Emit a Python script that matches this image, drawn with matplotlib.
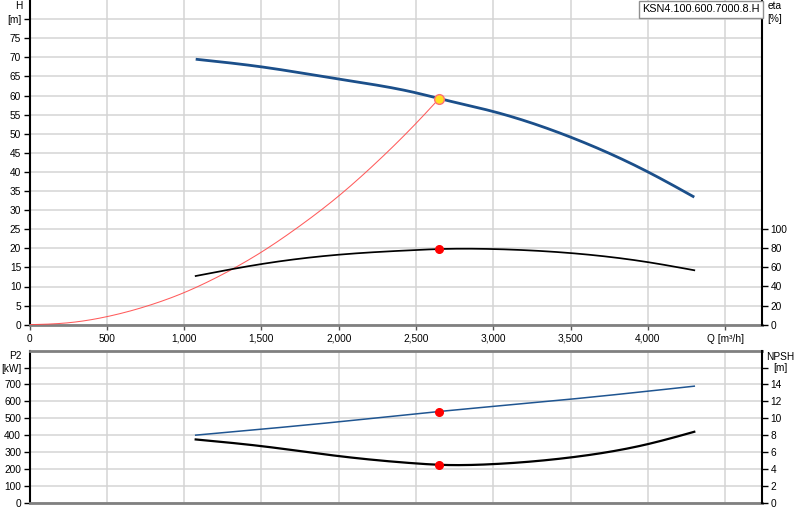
import matplotlib
matplotlib.use("Agg")
import matplotlib.pyplot as plt
import numpy as np

plt.rcParams['font.family'] = ['Liberation Sans', 'DejaVu Sans']
FS = 7.3

# ---- data ----
q_h = [1075, 1500, 2000, 2500, 2650, 3000, 3500, 4000, 4300]
h_vals = [69.5, 67.5, 64.3, 60.7, 59.2, 55.8, 49.1, 40.0, 33.4]

q_sys = [0, 250, 500, 800, 1000, 1250, 1500, 1750, 2000, 2250, 2500, 2650]
h_sys = [0, 0.5, 2.1, 5.4, 8.4, 13.2, 19.0, 25.9, 33.7, 42.7, 52.7, 59.2]

q_eta = [1075, 1500, 2000, 2500, 2650, 3000, 3500, 4000, 4300]
eta_vals = [51.0, 63.5, 73.3, 78.2, 79.2, 79.2, 75.0, 65.5, 57.0]

q_p2 = [1075, 2000, 2650, 3500, 4300]
p2_vals = [400, 479, 540, 613, 690]

q_npsh = [1075, 1500, 2000, 2500, 2650, 3000, 3500, 4000, 4300]
npsh_vals = [7.49, 6.70, 5.52, 4.65, 4.49, 4.57, 5.36, 6.94, 8.40]

q_op = 2650
h_op = 59.2
eta_op = 79.2
p2_op = 540
npsh_op = 4.49

x_ticks = [0, 500, 1000, 1500, 2000, 2500, 3000, 3500, 4000, 4500]
x_labels = ['0', '500', '1,000', '1,500', '2,000', '2,500', '3,000', '3,500', '4,000', 'Q [m³/h]']
title = 'KSN4.100.600.7000.8.H'


def smooth(x, y, n=200):
    """Natural cubic spline through the given points (for drawing only)."""
    x = np.asarray(x, float)
    y = np.asarray(y, float)
    k = len(x)
    h = np.diff(x)
    A = np.zeros((k, k))
    b = np.zeros(k)
    A[0, 0] = A[-1, -1] = 1
    for i in range(1, k - 1):
        A[i, i - 1] = h[i - 1]
        A[i, i] = 2 * (h[i - 1] + h[i])
        A[i, i + 1] = h[i]
        b[i] = 3 * ((y[i + 1] - y[i]) / h[i] - (y[i] - y[i - 1]) / h[i - 1])
    c = np.linalg.solve(A, b)
    xs = np.linspace(x[0], x[-1], n)
    idx = np.clip(np.searchsorted(x, xs) - 1, 0, k - 2)
    dx = xs - x[idx]
    bb = (y[1:] - y[:-1]) / h - h * (2 * c[:-1] + c[1:]) / 3
    d = (c[1:] - c[:-1]) / (3 * h)
    ys = y[idx] + bb[idx] * dx + c[idx] * dx ** 2 + d[idx] * dx ** 3
    return xs, ys


# ---- figure ----
fig = plt.figure(figsize=(8, 5.2), dpi=100)
L = 29.5 / 800
W = (762.3 - 29.5) / 800
ax = fig.add_axes([L, (520 - 324.7) / 520, W, 324.7 / 520])
axb = fig.add_axes([L, (520 - 502.7) / 520, W, (502.7 - 350.7) / 520])

grid_c = '#d4d4d4'
XMAX = 4740


def style(a):
    a.set_xlim(0, XMAX)
    a.set_xticks(x_ticks)
    a.grid(True, color=grid_c, lw=1.1)
    a.set_axisbelow(True)
    a.spines['left'].set_color('black')
    a.spines['left'].set_linewidth(1.5)
    a.spines['bottom'].set_color('#808080')
    a.spines['bottom'].set_linewidth(2)
    a.spines['top'].set_visible(False)
    a.spines['right'].set_visible(False)
    a.tick_params(axis='y', direction='out', length=4, width=1, color='black',
                  labelsize=FS, pad=2)
    a.tick_params(axis='x', direction='out', length=3.5, width=1, color='#555555',
                  labelsize=FS, pad=3)


# top panel
style(ax)
ax.set_ylim(0, 85)
ax.set_yticks(np.arange(0, 85, 5))
ax.set_yticklabels([str(v) for v in range(0, 80, 5)] + ['[m]'])
ax.set_xticklabels(x_labels)
ax.text(-0.014, 83.4, 'H', transform=ax.get_yaxis_transform(), ha='center', va='center', fontsize=FS)

ax.plot(*smooth(q_sys, h_sys), color='#ff4a4a', lw=0.75, alpha=0.9, zorder=3)
ax.plot(*smooth(q_h, h_vals), color='#1b4f8a', lw=2.0, solid_capstyle='butt', zorder=4)
ax.plot([q_op], [h_op], 'o', ms=7, mfc='#ffe020', mec='#ff7070', mew=1.0, zorder=6)

axe = ax.twinx()
axe.set_ylim(0, 340)
axe.set_yticks(np.arange(0, 101, 20))
for s in ['top', 'left', 'bottom']:
    axe.spines[s].set_visible(False)
axe.spines['right'].set_color('black')
axe.spines['right'].set_linewidth(1.5)
axe.tick_params(axis='y', direction='out', length=4, width=1, color='black', labelsize=FS, pad=2)
axe.plot(*smooth(q_eta, eta_vals), color='black', lw=1.25, zorder=4)
axe.plot([q_op], [eta_op], 'o', ms=5.5, color='#ff0000', zorder=6)
axe.text(1.007, 334, 'eta', transform=axe.get_yaxis_transform(), ha='left', va='center', fontsize=FS)
axe.text(1.007, 320, '[%]', transform=axe.get_yaxis_transform(), ha='left', va='center', fontsize=FS)

# title box
fig.text(701 / 800, 1 - 9.5 / 520, title, ha='center', va='center', fontsize=7.8,
         bbox=dict(boxstyle='square,pad=0.3', fc='white', ec='#909090', lw=1.0))

# bottom panel
style(axb)
axb.spines['top'].set_visible(True)
axb.spines['top'].set_color('#808080')
axb.spines['top'].set_linewidth(2)
axb.set_ylim(0, 900)
axb.set_yticks(np.arange(0, 801, 100))
axb.set_yticklabels([str(v) for v in range(0, 800, 100)] + ['[kW]'])
axb.tick_params(axis='x', length=0, labelbottom=False)
axb.text(-0.02, 866, 'P2', transform=axb.get_yaxis_transform(), ha='center', va='center', fontsize=FS)
axb.plot(*smooth(q_p2, p2_vals), color='#1f5591', lw=1.1, zorder=4)
axb.plot([q_op], [p2_op], 'o', ms=5.5, color='#ff0000', zorder=6)

axn = axb.twinx()
axn.set_ylim(0, 18)
axn.set_yticks(np.arange(0, 17, 2))
axn.set_yticklabels([str(v) for v in range(0, 16, 2)] + [''])
for s in ['top', 'left', 'bottom']:
    axn.spines[s].set_visible(False)
axn.spines['right'].set_color('black')
axn.spines['right'].set_linewidth(1.5)
axn.tick_params(axis='y', direction='out', length=4, width=1, color='black', labelsize=FS, pad=2)
axn.plot(*smooth(q_npsh, npsh_vals), color='black', lw=1.6, zorder=4)
axn.plot([q_op], [npsh_op], 'o', ms=5.5, color='#ff0000', zorder=6)
axn.text(1.024, 17.3, 'NPSH', transform=axn.get_yaxis_transform(), ha='center', va='center', fontsize=FS)
axn.text(1.024, 16.0, '[m]', transform=axn.get_yaxis_transform(), ha='center', va='center', fontsize=FS)

fig.savefig('out.png', dpi=100)
